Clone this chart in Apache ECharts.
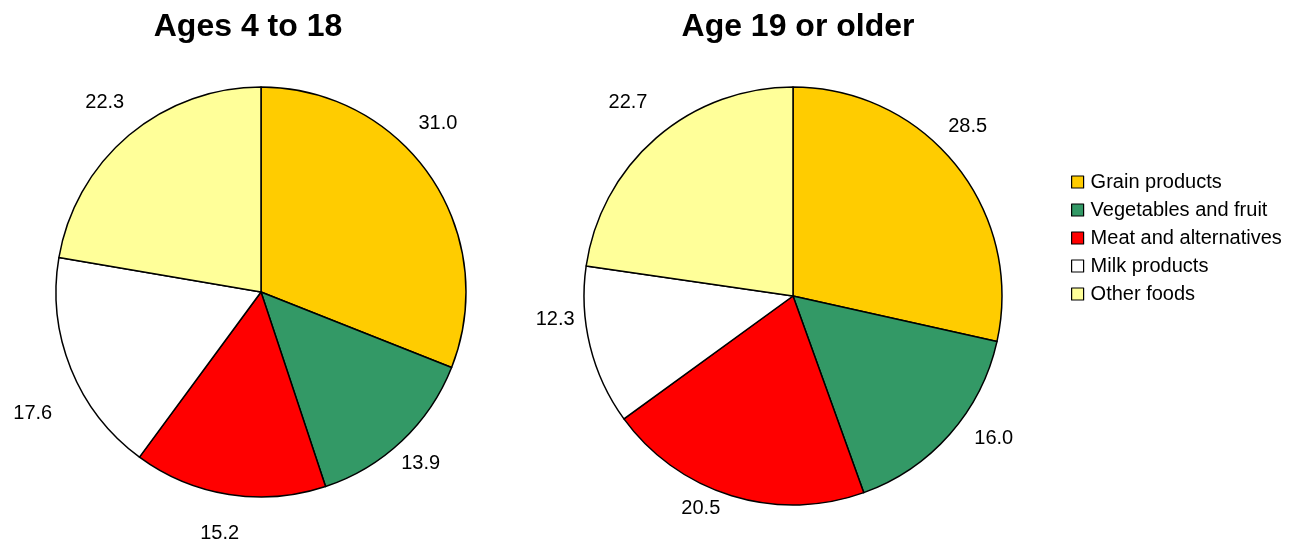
<!DOCTYPE html>
<html>
<head>
<meta charset="utf-8">
<script src="https://cdn.jsdelivr.net/npm/echarts@6/dist/echarts.min.js"></script>
<style>
html,body{margin:0;padding:0;background:#fff;}
#chart{width:1314px;height:546px;}
</style>
</head>
<body>
<div id="chart"></div>
<script>
// food groups, share of calories (%)
var categories = ['Grain products', 'Vegetables and fruit', 'Meat and alternatives', 'Milk products', 'Other foods'];
var youth = [31.0, 13.9, 15.2, 17.6, 22.3];
var adults = [28.5, 16.0, 20.5, 12.3, 22.7];
var titles = ['Ages 4 to 18', 'Age 19 or older'];

// styling
var colors = ['#FFCC00', '#339966', '#FF0000', '#FFFFFF', '#FFFF99'];
// nudges so the labels sit where the original put them
var youthLabelShift = [[-32, -43], [-18, 9], [18, 21], [3, 38], [12, -19]];
var adultLabelShift = [[-27, -28], [6, -8], [-1, -4], [7, -31], [8, -22]];
var FONT = 'Liberation Sans, Arial';

function toData(vals, shifts){
  var out = [];
  for (var i = 0; i < vals.length; i++) {
    out.push({
      name: categories[i],
      value: vals[i],
      itemStyle: {color: colors[i]},
      label: {offset: shifts[i]}
    });
  }
  return out;
}

function pieSeries(vals, shifts, center, r){
  return {
    type: 'pie',
    center: center,
    radius: r,
    startAngle: 90,
    clockwise: true,
    avoidLabelOverlap: false,
    animation: false,
    itemStyle: {borderColor: '#000', borderWidth: 1.5},
    label: {
      show: true,
      position: 'outside',
      formatter: function(p){ return p.value.toFixed(1); },
      fontFamily: FONT,
      fontSize: 20,
      color: '#000'
    },
    labelLine: {show: false, length: 18, length2: 0},
    emphasis: {disabled: true},
    data: toData(vals, shifts)
  };
}

var myChart = echarts.init(document.getElementById('chart'));
var option = {
  backgroundColor: '#fff',
  title: [
    {text: titles[0], left: 243, top: 6, textAlign: 'center',
     textStyle: {fontFamily: FONT, fontSize: 32, fontWeight: 'bold', color: '#000'}},
    {text: titles[1], left: 793, top: 6, textAlign: 'center',
     textStyle: {fontFamily: FONT, fontSize: 32, fontWeight: 'bold', color: '#000'}}
  ],
  legend: {
    orient: 'vertical',
    left: 1066,
    top: 167,
    itemWidth: 12,
    itemHeight: 12,
    itemGap: 8,
    icon: 'rect',
    itemStyle: {borderColor: '#000', borderWidth: 1.2},
    textStyle: {fontFamily: FONT, fontSize: 20, color: '#000', padding: [0, 0, 0, 2]},
    data: categories
  },
  series: [
    pieSeries(youth, youthLabelShift, [261, 292], 205),
    pieSeries(adults, adultLabelShift, [793, 296], 209)
  ]
};
myChart.setOption(option);
</script>
</body>
</html>
